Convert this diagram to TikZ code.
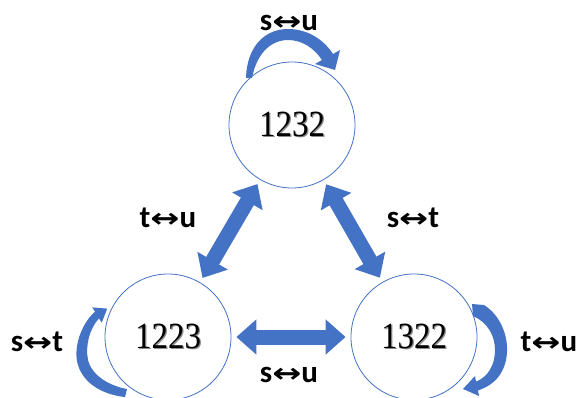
\documentclass[tikz,border=0pt]{standalone}
\usepackage{fontspec}
\setmainfont{Liberation Serif}
\newfontfamily\labelfont{Carlito}
\newfontfamily\symfont{DejaVu Sans}
\usetikzlibrary{arrows.meta}
\definecolor{ablue}{HTML}{4472C4}

% thin double arrow used in the swap labels
\newcommand{\lrarrow}{\scalebox{1.45}[1.1]{\symfont\fontsize{24}{24}\selectfont ↔}}
% state label: gray shadow under black digits, slightly tall
\newcommand{\statetext}[1]{%
  \scalebox{1}[1.12]{\rlap{\hspace{1.3pt}\raisebox{-1.1pt}{\textcolor{black!45}{#1}}}#1}}

\tikzset{
  state/.style={circle, draw=ablue, line width=0.8pt, fill=white,
    minimum size=126pt, inner sep=0pt,
    font=\fontsize{33}{36}\selectfont},
  swaplabel/.style={font=\labelfont\bfseries\fontsize{31}{33}\selectfont,
    inner sep=0pt},
  blockarrow/.style={draw=ablue, line width=15pt,
    {Triangle[length=20pt,width=34pt]}-{Triangle[length=20pt,width=34pt]},
    shorten <=5pt, shorten >=5pt},
  loopshape/.style={fill=ablue}
}

\begin{document}
\begin{tikzpicture}[x=1pt,y=-1pt]
  \useasboundingbox (0,0) rectangle (578,398);

  % three states
  \node[state] (top)   at (292,125) {\statetext{1232}};
  \node[state] (left)  at (168,337) {\statetext{1223}};
  \node[state] (right) at (414,337) {\statetext{1322}};

  % transitions between states
  \draw[blockarrow] (left)  -- (top);
  \draw[blockarrow] (top)   -- (right);
  \draw[blockarrow] (left)  -- (right);

  % self loops
  \fill[loopshape] (246,78) .. controls (247,45) and (266,29) .. (288,29)
    .. controls (308,29) and (324,40) .. (333,54)
    -- (340,50) -- (335,70) -- (315,64) -- (322,60)
    .. controls (314,48) and (302,40) .. (288,40)
    .. controls (272,40) and (257,52) .. (252,78) -- cycle;

  \fill[loopshape] (95,311.6) .. controls (80,325) and (73,350) .. (78,365)
    .. controls (84,385) and (105,395) .. (125,397)
    -- (127,389)
    .. controls (110,386) and (92,376) .. (88,360)
    .. controls (85,345) and (90,328) .. (99,318.4)
    -- (101.8,322.6) -- (107.2,308.6) -- (92.2,307.4) -- cycle;

  \fill[loopshape] (472,304) -- (484,305)
    .. controls (500,315) and (508,335) .. (507,352)
    .. controls (506,372) and (495,385) .. (478,390.4)
    -- (479,396) -- (463,389) -- (475,376) -- (476,381.6)
    .. controls (488,377) and (495,365) .. (495,350)
    .. controls (495,335) and (487,322) .. (473,316) -- cycle;

  % swap labels
  \node[swaplabel] (ltop)   at (289,23)  {s\lrarrow u};
  \node[swaplabel] (lleft)  at (168,218) {t\lrarrow u};
  \node[swaplabel] (lright) at (413,218) {s\lrarrow t};
  \node[swaplabel] (lbl)    at (37,342)  {s\lrarrow t};
  \node[swaplabel] (lbr)    at (549,342) {t\lrarrow u};
  \node[swaplabel] (lbot)   at (289,375) {s\lrarrow u};
\end{tikzpicture}
\end{document}
